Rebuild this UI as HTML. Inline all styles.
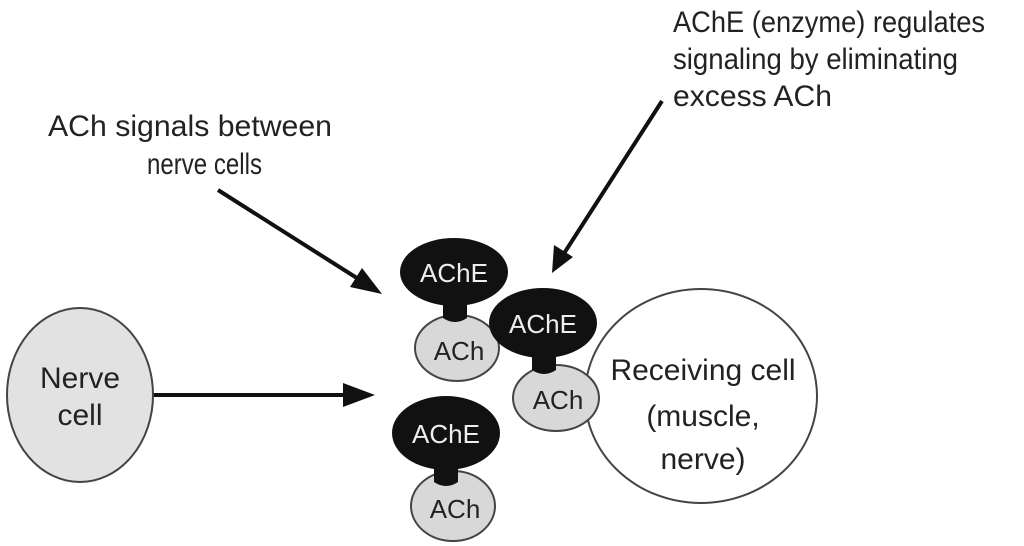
<!DOCTYPE html>
<html><head><meta charset="utf-8"><style>
html,body{margin:0;padding:0;background:#fff;}
svg{display:block;}
text{font-family:"Liberation Sans Narrow","Liberation Sans",sans-serif;}
</style></head><body>
<svg width="1024" height="546" viewBox="0 0 1024 546" xmlns="http://www.w3.org/2000/svg">
<defs>
<marker id="ah" markerWidth="10" markerHeight="8" refX="9" refY="4" orient="auto" markerUnits="userSpaceOnUse" viewBox="0 0 10 8">
</marker>
</defs>
<!-- Labels -->
<g fill="#222" font-size="30">
<text x="48" y="136" textLength="284" lengthAdjust="spacingAndGlyphs">ACh signals between</text>
<text x="147" y="174" textLength="115" lengthAdjust="spacingAndGlyphs">nerve cells</text>
<text x="673" y="32" textLength="312" lengthAdjust="spacingAndGlyphs">AChE (enzyme) regulates</text>
<text x="673" y="69" textLength="285" lengthAdjust="spacingAndGlyphs">signaling by eliminating</text>
<text x="673" y="106" textLength="159" lengthAdjust="spacingAndGlyphs">excess ACh</text>
</g>
<!-- arrows -->
<g stroke="#111" stroke-width="4" fill="#111">
<line x1="218" y1="190" x2="360" y2="280"/>
<polygon points="382,294 350,287 362,268" stroke="none"/>
<line x1="662" y1="101" x2="563" y2="255"/>
<polygon points="552,273 554,245 573,257" stroke="none"/>
<line x1="153" y1="395" x2="345" y2="395"/>
<polygon points="375,395 343,383 343,407" stroke="none"/>
</g>
<!-- Nerve cell -->
<ellipse cx="80" cy="395" rx="73" ry="87" fill="#e2e2e2" stroke="#444" stroke-width="2"/>
<g fill="#222" font-size="30" text-anchor="middle">
<text x="80" y="388">Nerve</text>
<text x="80" y="425">cell</text>
</g>
<!-- Receiving cell -->
<ellipse cx="701" cy="396" rx="116" ry="107" fill="#fff" stroke="#444" stroke-width="2"/>
<g fill="#222" font-size="30" text-anchor="middle">
<text x="703" y="380">Receiving cell</text>
<text x="703" y="426">(muscle,</text>
<text x="703" y="469">nerve)</text>
</g>
<!-- ACh/AChE group 1 -->
<ellipse cx="457" cy="348" rx="42" ry="33" fill="#d8d8d8" stroke="#444" stroke-width="2"/>
<ellipse cx="454" cy="272" rx="54" ry="34" fill="#111"/>
<path d="M443,295 L467,295 L467,318 Q455,326 443,318 Z" fill="#111"/>
<!-- group 2 -->
<ellipse cx="556" cy="398" rx="43" ry="33" fill="#d8d8d8" stroke="#444" stroke-width="2"/>
<ellipse cx="543" cy="323" rx="54" ry="35" fill="#111"/>
<path d="M532,345 L556,345 L556,370 Q544,378 532,370 Z" fill="#111"/>
<!-- group 3 -->
<ellipse cx="453" cy="506" rx="42" ry="35" fill="#d8d8d8" stroke="#444" stroke-width="2"/>
<ellipse cx="446" cy="433" rx="54" ry="37" fill="#111"/>
<path d="M434,458 L458,458 L458,482 Q446,490 434,482 Z" fill="#111"/>
<g font-size="26" text-anchor="middle">
<text x="454" y="282" fill="#eee">AChE</text>
<text x="543" y="333" fill="#eee">AChE</text>
<text x="446" y="443" fill="#eee">AChE</text>
<text x="459" y="360" fill="#222">ACh</text>
<text x="558" y="409" fill="#222">ACh</text>
<text x="455" y="518" fill="#222">ACh</text>
</g>
</svg>
</body></html>
